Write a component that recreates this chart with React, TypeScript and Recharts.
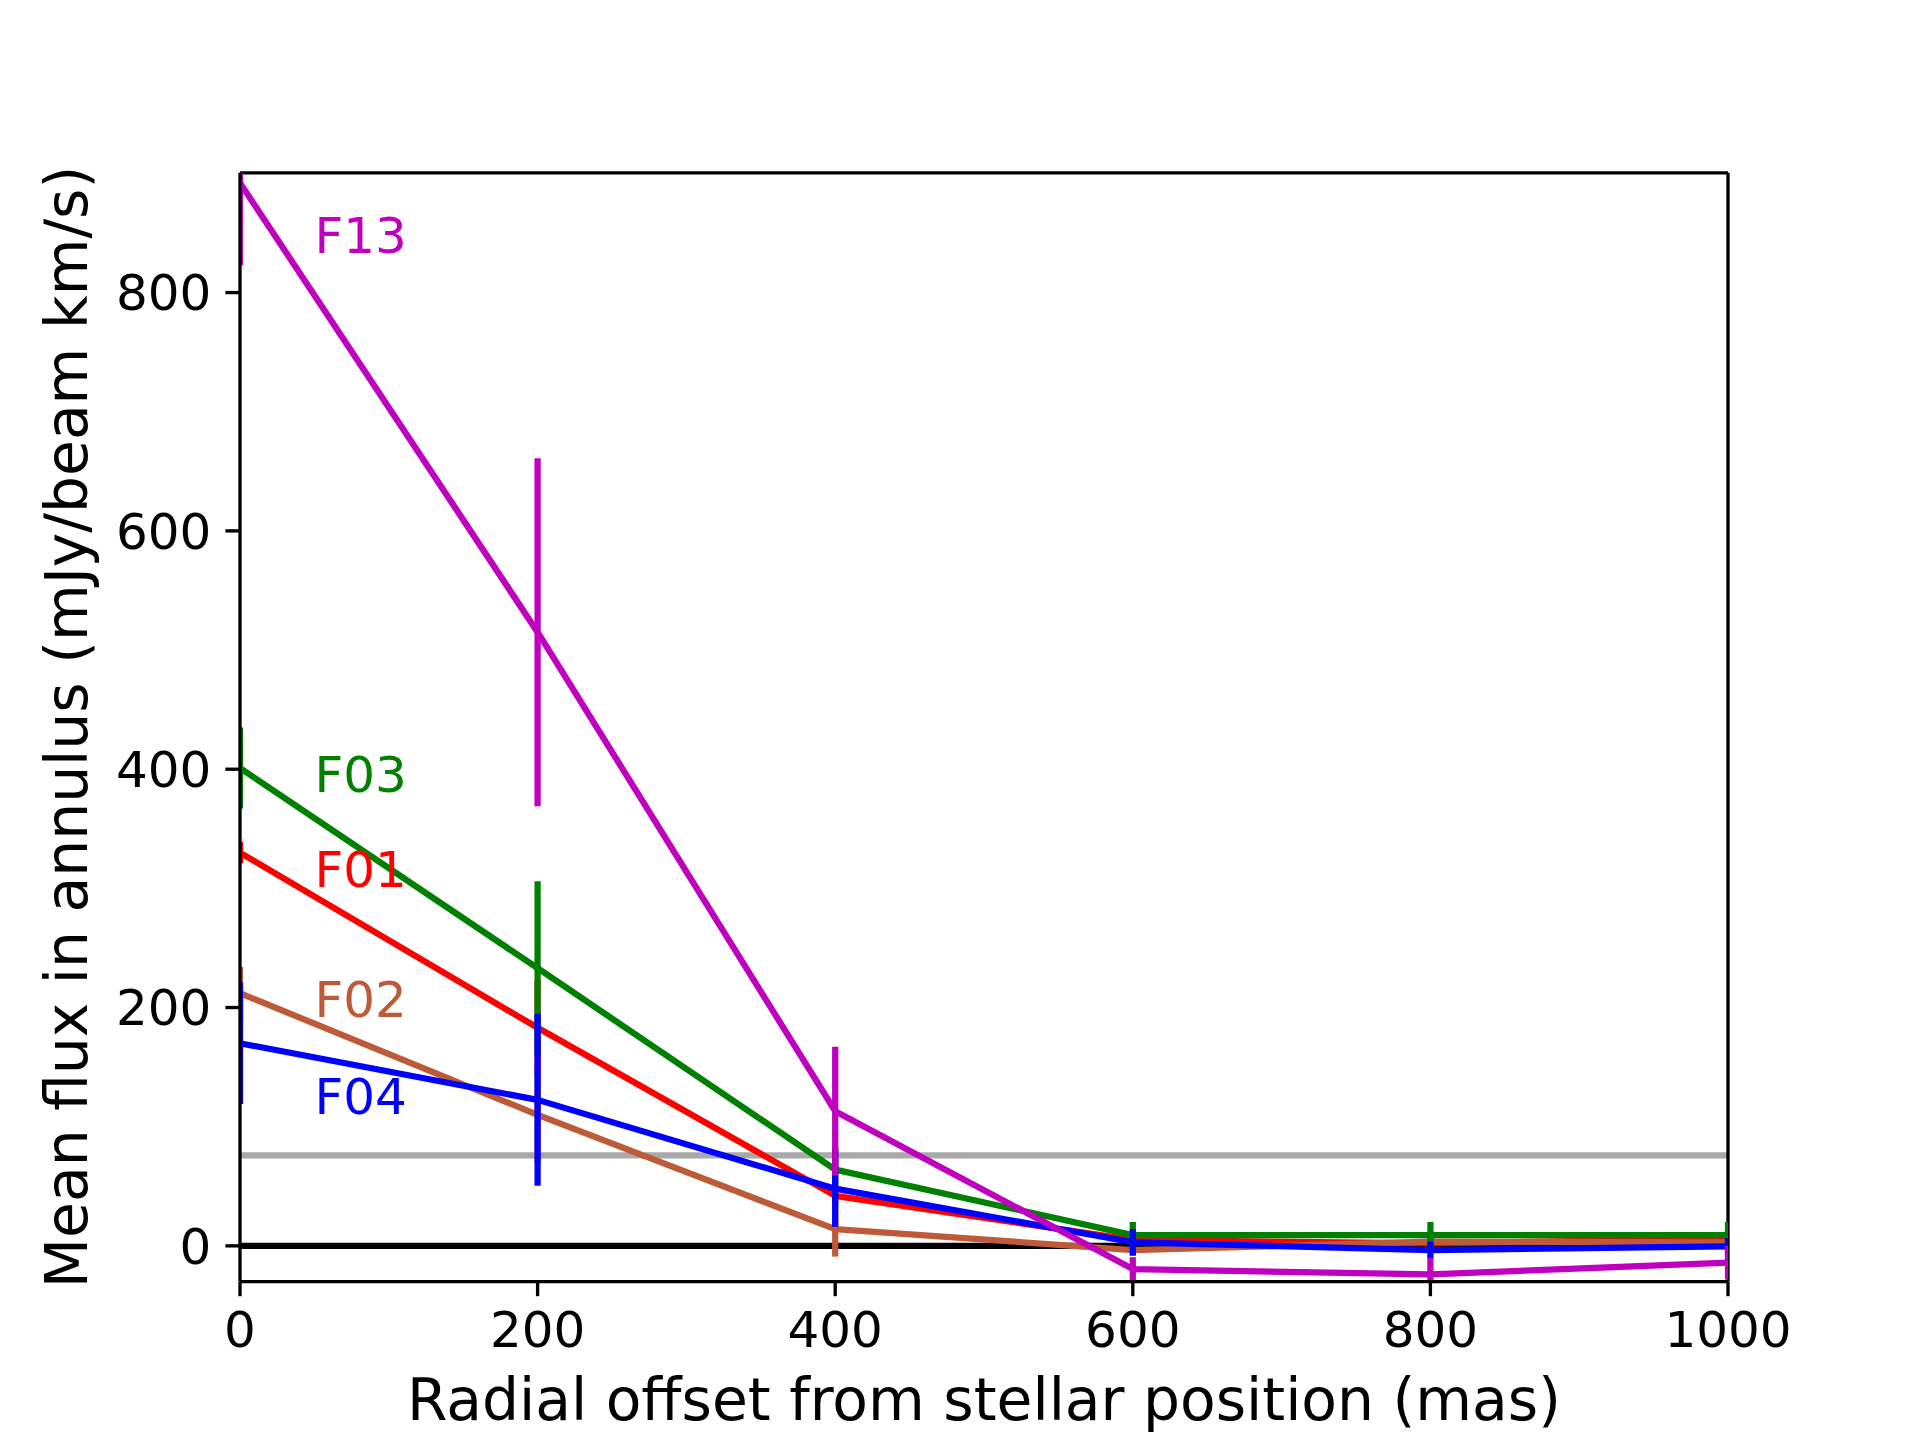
import { LineChart, Line, XAxis, YAxis, ErrorBar, ReferenceLine, ReferenceDot } from 'recharts';

const FONT = '"DejaVu Sans", sans-serif';

// radial offsets (mas)
const radius = [0, 200, 400, 600, 800, 1000];

// mean flux per field (mJy/beam km/s) and 1-sigma errors
const f01 = [330, 183, 42, 5, 2, 6];
const f01Err = [9, 40, 8, 5, 5, 5];
const f02 = [212, 110, 14, -3.5, 3.5, 3];
const f02Err = [22, 40, 23, 5, 5, 5];
const f03 = [401, 233, 64, 9, 9, 9];
const f03Err = [34, 73, 20, 11, 11, 11];
const f04 = [170, 122.5, 48, 3, -3.5, -0.5];
const f04Err = [51, 72, 32, 11, 7, 7];
const f13 = [892, 515, 113, -19.5, -24, -14];
const f13Err = [69, 146, 54, 10, 14, 14];

const noiseLevel = 76;

const xTicks = [0, 200, 400, 600, 800, 1000];
const yTicks = [0, 200, 400, 600, 800];

const labelX = 50;
const labelNames = ['F13', 'F03', 'F01', 'F02', 'F04'];
const labelY = [833, 381, 301, 192, 111];

const rows = radius.map((r, i) => ({
  r,
  f01: f01[i], f01Err: f01Err[i],
  f02: f02[i], f02Err: f02Err[i],
  f03: f03[i], f03Err: f03Err[i],
  f04: f04[i], f04Err: f04Err[i],
  f13: f13[i], f13Err: f13Err[i],
}));

const series = [
  { key: 'f01', color: '#ff0000' },
  { key: 'f02', color: '#bd5a37' },
  { key: 'f03', color: '#008000' },
  { key: 'f04', color: '#0000ff' },
  { key: 'f13', color: '#bf00bf' },
];

const labelColor: Record<string, string> = {
  F01: '#ff0000', F02: '#bd5a37', F03: '#008000', F04: '#0000ff', F13: '#bf00bf',
};

const LW = 6.25;
const SPINE = 3.33;

// plot box (matplotlib default subplot params on a 1920x1440 canvas)
const PL = 240, PR = 1728, PT = 172.8, PB = 1281.6;

export default function App() {
  const tickStyle = { fill: '#000', fontSize: 50, fontFamily: FONT };
  return (
    <div style={{ position: 'absolute', left: 0, top: 0, width: 1920, height: 1440, background: '#fff' }}>
      <style>{`
        .recharts-line, .recharts-errorBars, .recharts-errorBar { clip-path: url(#plotClip); }
      `}</style>
      <svg width={0} height={0} style={{ position: 'absolute' }}>
        <defs>
          <clipPath id="plotClip" clipPathUnits="userSpaceOnUse">
            <rect x={PL} y={PT} width={PR - PL} height={PB - PT} />
          </clipPath>
        </defs>
      </svg>
      <LineChart
        width={1920}
        height={1440}
        data={rows}
        margin={{ top: PT, right: 1920 - PR, bottom: 1440 - PB - 60, left: PL - 60 }}
      >
        <XAxis
          dataKey="r"
          type="number"
          domain={[0, 1000]}
          ticks={xTicks}
          allowDataOverflow
          height={60}
          tick={tickStyle}
          tickSize={14.6}
          tickMargin={15}
          tickLine={{ stroke: '#000', strokeWidth: SPINE }}
          axisLine={{ stroke: '#000', strokeWidth: SPINE }}
        />
        <YAxis
          type="number"
          domain={[-30, 900.5]}
          ticks={yTicks}
          allowDataOverflow
          width={60}
          tick={tickStyle}
          tickSize={14.6}
          tickMargin={14}
          tickLine={{ stroke: '#000', strokeWidth: SPINE }}
          axisLine={{ stroke: '#000', strokeWidth: SPINE }}
        />
        <ReferenceLine y={noiseLevel} stroke="#a9a9a9" strokeWidth={LW} />
        <ReferenceLine y={0} stroke="#000" strokeWidth={LW} />
        <ReferenceLine x={1000} stroke="#000" strokeWidth={SPINE} />
        <ReferenceLine y={900.5} stroke="#000" strokeWidth={SPINE} />
        {series.map((s) => (
          <Line
            key={s.key}
            dataKey={s.key}
            stroke={s.color}
            strokeWidth={LW}
            dot={false}
            activeDot={false}
            isAnimationActive={false}
            strokeLinejoin="round"
          >
            <ErrorBar dataKey={`${s.key}Err`} width={0} stroke={s.color} strokeWidth={LW} direction="y" />
          </Line>
        ))}
        {labelNames.map((name, i) => (
          <ReferenceDot
            key={name}
            x={labelX}
            y={labelY[i]}
            r={0}
            fill="none"
            stroke="none"
            label={{
              value: name,
              position: 'insideBottomLeft',
              offset: 0,
              fill: labelColor[name],
              fontSize: 50,
              fontFamily: FONT,
            }}
          />
        ))}
      </LineChart>
      <svg
        width={1920}
        height={1440}
        style={{ position: 'absolute', left: 0, top: 0, pointerEvents: 'none' }}
      >
        <text x={984} y={1420} textAnchor="middle" fontSize={58.3} fontFamily={FONT} fill="#000">
          Radial offset from stellar position (mas)
        </text>
        <text
          x={87}
          y={727}
          textAnchor="middle"
          fontSize={58.3}
          fontFamily={FONT}
          fill="#000"
          transform="rotate(-90, 87, 727)"
        >
          Mean flux in annulus (mJy/beam km/s)
        </text>
      </svg>
    </div>
  );
}
